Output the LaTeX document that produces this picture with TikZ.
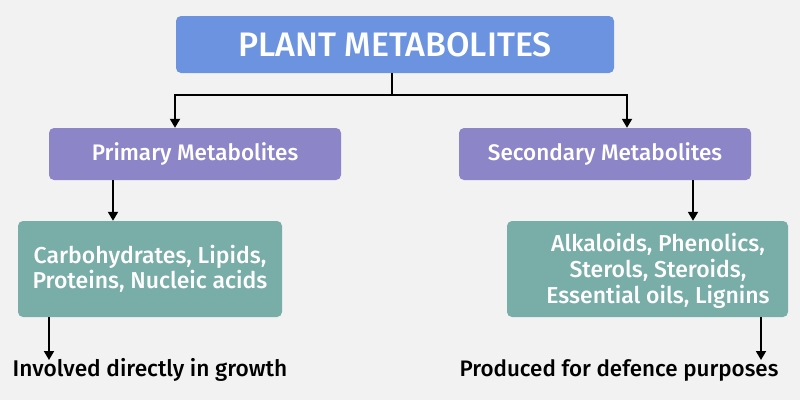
\documentclass[tikz,border=0pt]{standalone}
\usepackage{fontspec}
\setmainfont{Fira Sans}[BoldFont={Fira Sans Medium}]
\usetikzlibrary{arrows.meta}
\definecolor{bg}{HTML}{F2F2F2}
\definecolor{titlec}{HTML}{6B93E0}
\definecolor{purp}{HTML}{8C85C8}
\definecolor{teal2}{HTML}{78ADA8}
\tikzset{
  box/.style={draw=none, rounded corners=5pt, inner sep=0pt, minimum width=#1},
  wtext/.style={text=white, font=\bfseries},
  conn/.style={line width=1.8pt, -{Triangle[width=10pt,length=9pt]}},
  plain/.style={line width=1.8pt},
}
\begin{document}
\begin{tikzpicture}[x=1pt,y=-1pt]
\fill[bg] (0,0) rectangle (800,400);
\useasboundingbox (0,0) rectangle (800,400);
\node[box=438pt, fill=titlec, minimum height=57pt, wtext, font=\bfseries\fontsize{34}{38}\selectfont] (title) at (395,44.5) {PLANT METABOLITES};
\node[box=292pt, fill=purp, minimum height=52pt, wtext, font=\bfseries\fontsize{22.5}{26}\selectfont] (prim) at (195,154) {Primary Metabolites};
\node[box=292pt, fill=purp, minimum height=52pt, wtext, font=\bfseries\fontsize{22.5}{26}\selectfont] (sec) at (605,154) {Secondary Metabolites};
\node[box=264pt, fill=teal2, minimum height=96pt, wtext, align=center, font=\bfseries\fontsize{23}{25}\selectfont] (pl) at (150,269) {Carbohydrates, Lipids,\\Proteins, Nucleic acids};
\node[box=281pt, fill=teal2, minimum height=96pt] (sl) at (647.5,269) {};
\node[wtext, align=center, inner sep=0pt, font=\bfseries\fontsize{23}{26}\selectfont] (sltext) at (658,271) {Alkaloids, Phenolics,\\Sterols, Steroids,\\Essential oils, Lignins};
\node[inner sep=0pt, font=\bfseries\fontsize{22.7}{26}\selectfont] (plab) at (150,370) {Involved directly in growth};
\node[inner sep=0pt, font=\bfseries\fontsize{22.4}{26}\selectfont] (slab) at (619,370) {Produced for defence purposes};
\coordinate (j) at (392,95);
\coordinate (jl) at (175,95);
\coordinate (jr) at (627,95);
\draw[plain] (title.south -| j) -- (j);
\draw[conn] (j) -- (jl) -- (jl |- prim.north);
\draw[conn] (j) -- (jr) -- (jr |- sec.north);
\draw[conn] (prim.south -| 113,0) -- (pl.north -| 113,0);
\draw[conn] (sec.south -| 693,0) -- (sl.north -| 693,0);
\draw[conn] (pl.south -| 49,0) -- (49,360);
\draw[conn] (sl.south -| 761,0) -- (761,360);
\end{tikzpicture}
\end{document}
